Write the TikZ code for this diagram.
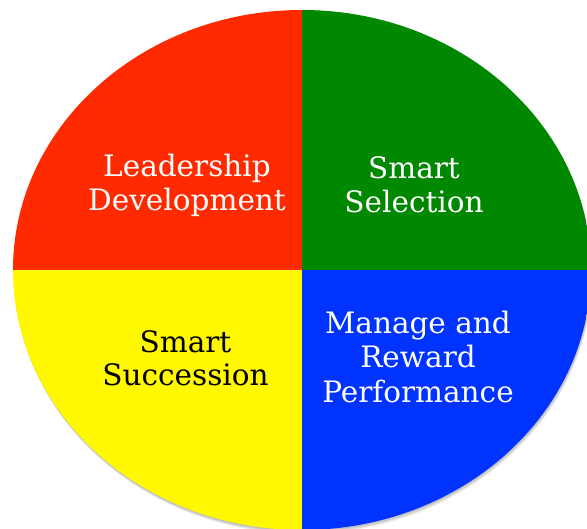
\documentclass[tikz,border=0pt]{standalone}
\usepackage{fontspec}
\setmainfont{DejaVu Serif}
\definecolor{leadred}{HTML}{FF2A00}
\definecolor{selgreen}{HTML}{008800}
\definecolor{succyellow}{HTML}{FFF800}
\definecolor{perfblue}{HTML}{0033FF}
\tikzset{
	lbl/.style={anchor=base, inner sep=0pt, text=white, font=\fontsize{29.5}{34}\selectfont},
	wheel/.style={x radius=289pt, y radius=260pt},
}
\begin{document}
\begin{tikzpicture}[x=1pt, y=-1pt]
	\useasboundingbox (0,0) rectangle (587,529);
	
	% soft shadow under the wheel
	\foreach \k in {1,...,5}
		\fill[black, opacity=0.06] (302+0.3*\k,270+0.8*\k) ellipse [wheel];
	
	% four quarters of the wheel
	\begin{scope}
		\clip (302,270) ellipse [wheel];
		\fill[leadred] (0,0) rectangle (302,270);
		\fill[selgreen] (302,0) rectangle (600,270);
		\fill[succyellow] (0,270) rectangle (302,540);
		\fill[perfblue] (302,270) rectangle (600,540);
	\end{scope}
	
	\node[lbl] (lead) at (187,177) {Leadership};
	\node[lbl] (dev) at (187,211) {Development};
	
	\node[lbl] (smart1) at (414,179) {Smart};
	\node[lbl] (sel) at (414,213) {Selection};
	
	\node[lbl, text=black] (smart2) at (185.5,353) {Smart};
	\node[lbl, text=black] (succ) at (185.5,386) {Succession};
	
	\node[lbl] (manage) at (418,334) {Manage and};
	\node[lbl] (reward) at (418,368) {Reward};
	\node[lbl] (perf) at (418,403) {Performance};
\end{tikzpicture}
\end{document}
